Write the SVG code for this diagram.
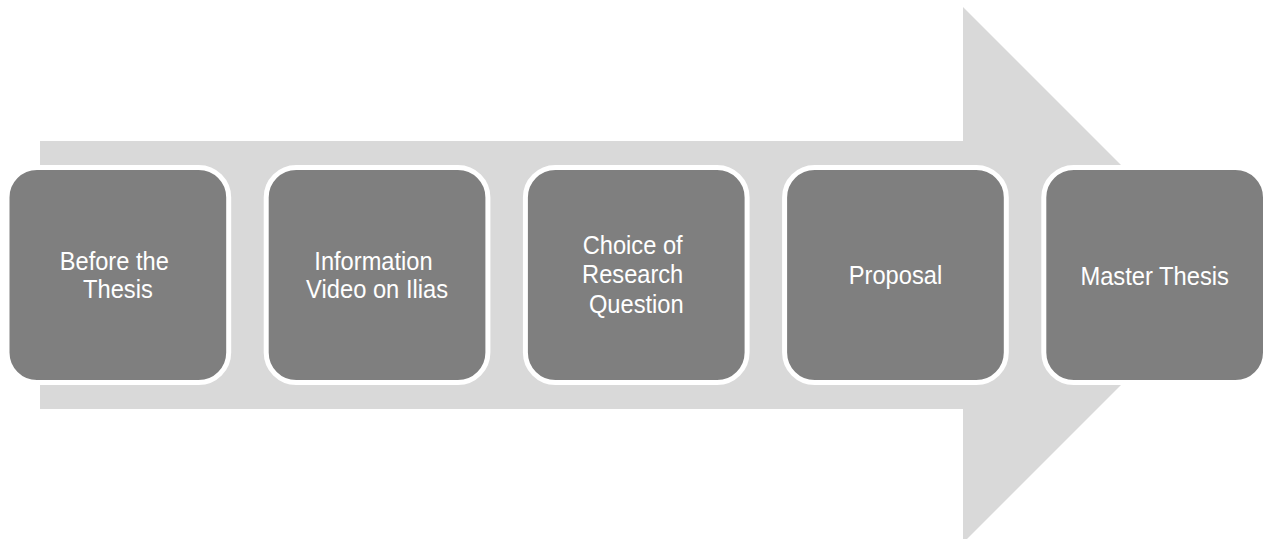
<svg xmlns="http://www.w3.org/2000/svg" width="1268" height="539" viewBox="0 0 1268 539">
  <style>
    .arrow { fill: #D9D9D9; }
    .step { fill: #7F7F7F; stroke: #FFFFFF; stroke-width: 5; }
    .label { fill: #FFFFFF; font-family: "Liberation Sans", Arial, sans-serif; font-size: 26px; text-anchor: middle; }
  </style>

  <!-- background process arrow -->
  <g id="connectors">
    <polygon class="arrow" points="40,141 963,141 963,7 1231,275 963,543 963,409 40,409"/>
  </g>

  <g id="step-before-thesis">
    <rect class="step" x="7" y="167.5" width="221.7" height="215" rx="30" ry="30"/>
    <text class="label">
      <tspan x="117.9" y="269.5" textLength="109" lengthAdjust="spacingAndGlyphs">Before the</tspan>
      <tspan x="117.9" y="298" textLength="69.7" lengthAdjust="spacingAndGlyphs">Thesis</tspan>
    </text>
  </g>

  <g id="step-information-video">
    <rect class="step" x="266.2" y="167.5" width="221.7" height="215" rx="30" ry="30"/>
    <text class="label">
      <tspan x="377.1" y="270" textLength="118.3" lengthAdjust="spacingAndGlyphs">Information</tspan>
      <tspan x="377.1" y="298.3" textLength="142" lengthAdjust="spacingAndGlyphs">Video on Ilias</tspan>
    </text>
  </g>

  <g id="step-research-question">
    <rect class="step" x="525.4" y="167.5" width="221.7" height="215" rx="30" ry="30"/>
    <text class="label">
      <tspan x="636.3" y="254.3" textLength="99.9" lengthAdjust="spacingAndGlyphs">Choice of</tspan>
      <tspan x="636.3" y="283.3" textLength="101.2" lengthAdjust="spacingAndGlyphs">Research</tspan>
      <tspan x="636.3" y="312.5" textLength="94.7" lengthAdjust="spacingAndGlyphs">Question</tspan>
    </text>
  </g>

  <g id="step-proposal">
    <rect class="step" x="784.6" y="167.5" width="221.7" height="215" rx="30" ry="30"/>
    <text class="label" x="895.5" y="283.5" textLength="93.4" lengthAdjust="spacingAndGlyphs">Proposal</text>
  </g>

  <g id="step-master-thesis">
    <rect class="step" x="1043.8" y="167.5" width="221.7" height="215" rx="30" ry="30"/>
    <text class="label" x="1154.7" y="284.5" textLength="148.6" lengthAdjust="spacingAndGlyphs">Master Thesis</text>
  </g>
</svg>
